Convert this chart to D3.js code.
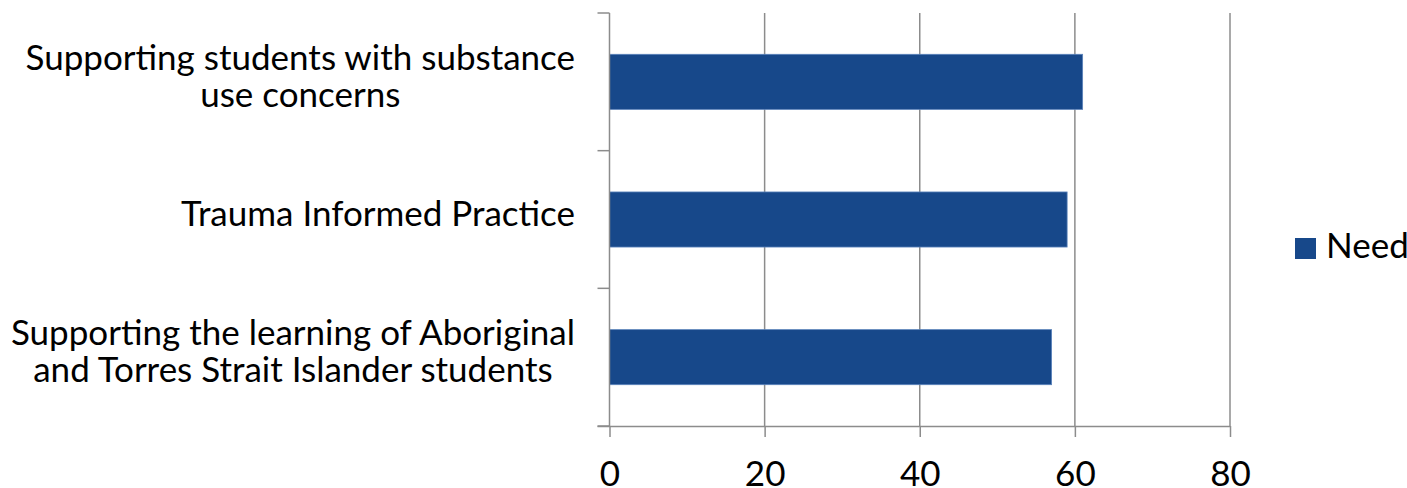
<!DOCTYPE html>
<html>
<head>
<meta charset="utf-8">
<script src="https://cdn.jsdelivr.net/npm/d3@7"></script>
<style>
  html, body { margin: 0; padding: 0; background: #fff; }
  svg { display: block; }
  text { font-family: Lato, "Open Sans", sans-serif; fill: #000; }
</style>
</head>
<body>
<svg id="chart" width="1407" height="488"></svg>
<script>
// Categories (top to bottom), split into display lines
const categories = [
  "Supporting students with substance use concerns",
  "Trauma Informed Practice",
  "Supporting the learning of Aboriginal and Torres Strait Islander students"
];
const categoryLines = [
  ["Supporting students with substance", "use concerns"],
  ["Trauma Informed Practice"],
  ["Supporting the learning of Aboriginal", "and Torres Strait Islander students"]
];
const needValues = [61, 59, 57];
const xTicks = [0, 20, 40, 60, 80];
const seriesName = "Need";

const barColor = "#17488A";
const gridColor = "#8c8c8c";
const fontSize = 35;
const lineGap = 37.5;

const svg = d3.select("#chart");

const plot = { left: 609.5, right: 1230, top: 13, bottom: 426 };

const x = d3.scaleLinear().domain([0, 80]).range([plot.left, plot.right]);
const y = d3.scaleBand()
  .domain(categories)
  .range([plot.top, plot.bottom])
  .paddingInner(0.6)
  .paddingOuter(0.3);

// vertical gridlines
svg.append("g")
  .selectAll("line")
  .data(xTicks.filter(d => d > 0))
  .join("line")
  .attr("x1", d => x(d)).attr("x2", d => x(d))
  .attr("y1", plot.top).attr("y2", plot.bottom)
  .attr("stroke", gridColor).attr("stroke-width", 1.5);

// bars
svg.append("g")
  .selectAll("rect")
  .data(categories)
  .join("rect")
  .attr("x", x(0))
  .attr("y", d => y(d))
  .attr("width", (d, i) => x(needValues[i]) - x(0))
  .attr("height", y.bandwidth())
  .attr("fill", barColor)
  .attr("stroke", "#5b83bb")
  .attr("stroke-width", 0.8);

// bottom axis
const xAxis = d3.axisBottom(x)
  .tickValues(xTicks)
  .tickSize(11)
  .tickSizeOuter(0)
  .tickFormat(d3.format("d"));
const gx = svg.append("g")
  .attr("transform", `translate(0,${plot.bottom})`)
  .call(xAxis);
gx.select(".domain").attr("stroke", gridColor).attr("stroke-width", 1.5)
  .attr("d", `M${plot.left - 12},0.5H${plot.right}`);
gx.selectAll(".tick line").attr("stroke", gridColor).attr("stroke-width", 1.5);
gx.selectAll(".tick text")
  .attr("y", 60 - 0)
  .attr("dy", 0)
  .style("font-size", fontSize + "px")
  .style("font-family", "Lato, 'Open Sans', sans-serif")
  .attr("fill", "#000");

// left axis line with category boundary ticks
const boundaries = categories.map(c => y(c) - y.step() * y.paddingInner() / 2);
boundaries.push(plot.bottom);
boundaries[0] = plot.top;
svg.append("line")
  .attr("x1", plot.left).attr("x2", plot.left)
  .attr("y1", plot.top).attr("y2", plot.bottom)
  .attr("stroke", gridColor).attr("stroke-width", 1.5);
svg.append("g")
  .selectAll("line")
  .data(boundaries)
  .join("line")
  .attr("x1", plot.left - 12).attr("x2", plot.left)
  .attr("y1", d => d).attr("y2", d => d)
  .attr("stroke", gridColor).attr("stroke-width", 1.5);

// category labels, each block right-aligned, lines centred within the block
const labelRight = 575;
const labelG = svg.append("g").style("font-size", fontSize + "px");
categories.forEach((c, i) => {
  const lines = categoryLines[i];
  const cy = y(c) + y.bandwidth() / 2;
  const g = labelG.append("g");
  const texts = lines.map((ln, j) => g.append("text")
    .attr("text-anchor", "middle")
    .attr("y", cy - 6 + (j - (lines.length - 1) / 2) * lineGap + 12.5)
    .text(ln));
  const maxW = d3.max(texts, t => t.node().getComputedTextLength());
  texts.forEach(t => t.attr("x", labelRight - maxW / 2));
});

// legend
const legend = svg.append("g");
legend.append("rect")
  .attr("x", 1295).attr("y", 238)
  .attr("width", 21).attr("height", 21)
  .attr("fill", barColor);
legend.append("text")
  .attr("x", 1326).attr("y", 258)
  .style("font-size", fontSize + "px")
  .text(seriesName);
</script>
</body>
</html>
